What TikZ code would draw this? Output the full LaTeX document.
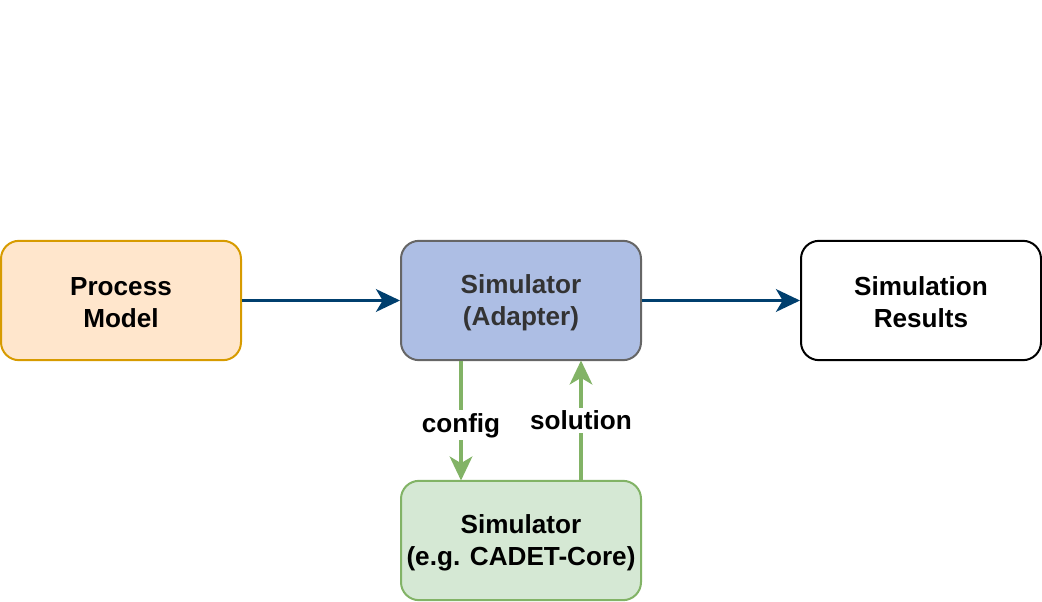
\documentclass[tikz,border=0pt]{standalone}
\usepackage{fontspec}
\setmainfont{Liberation Sans}
\usetikzlibrary{arrows.meta}
\definecolor{orfill}{HTML}{FFE6CC}
\definecolor{ordraw}{HTML}{D79B00}
\definecolor{adfill}{HTML}{ADBEE4}
\definecolor{addraw}{HTML}{666666}
\definecolor{adtext}{HTML}{333333}
\definecolor{grfill}{HTML}{D5E8D4}
\definecolor{grdraw}{HTML}{82B366}
\definecolor{bluearrow}{HTML}{003F6E}
\tikzset{
  box/.style={draw, line width=1.5pt, rounded corners=13.5pt, minimum width=180pt, minimum height=89.5pt,
    align=center, inner sep=0pt, font=\fontsize{19.6}{24}\selectfont\bfseries},
  bluearr/.style={draw=bluearrow, line width=2.4pt, -{Stealth[length=18pt,width=17pt,inset=5pt]}},
  greenarr/.style={draw=grdraw, line width=2.4pt, -{Stealth[length=18pt,width=17pt,inset=5pt]}},
  lbl/.style={fill=white, inner sep=2pt, font=\fontsize{19.6}{24}\selectfont\bfseries}
}
\begin{document}
\begin{tikzpicture}[x=0.75pt,y=-0.75pt]
\useasboundingbox (0,0) rectangle (1042,602);
\node[box, fill=orfill, draw=ordraw] (pm) at (121,300.5) {};
\node[box, fill=adfill, draw=addraw] (ad) at (521,300.5) {};
\node[box, fill=white, draw=black] (res) at (921,300.5) {};
\node[box, fill=grfill, draw=grdraw] (core) at (521,540.5) {};
\node[box, draw=none, fill=none] (pmt) at (121,302.5) {Process\\Model};
\node[box, draw=none, fill=none, text=adtext] (adt) at (521,302.5) {Simulator\\(Adapter)};
\node[box, draw=none, fill=none] (rest) at (921,302.5) {Simulation\\Results};
\node[box, draw=none, fill=none] (coret) at (521,542.5) {Simulator\\(e.g. CADET-Core)};
\draw[bluearr] (pm.east) -- (ad.west);
\draw[bluearr] (ad.east) -- (res.west);
\coordinate (a1) at (461,360.5);
\coordinate (c1) at (461,480.5);
\coordinate (a2) at (581,360.5);
\coordinate (c2) at (581,480.5);
\draw[greenarr] (a1) -- node[lbl, pos=0.54] {config} (c1);
\draw[greenarr] (c2) -- node[lbl, pos=0.5] {solution} (a2);
\end{tikzpicture}
\end{document}
